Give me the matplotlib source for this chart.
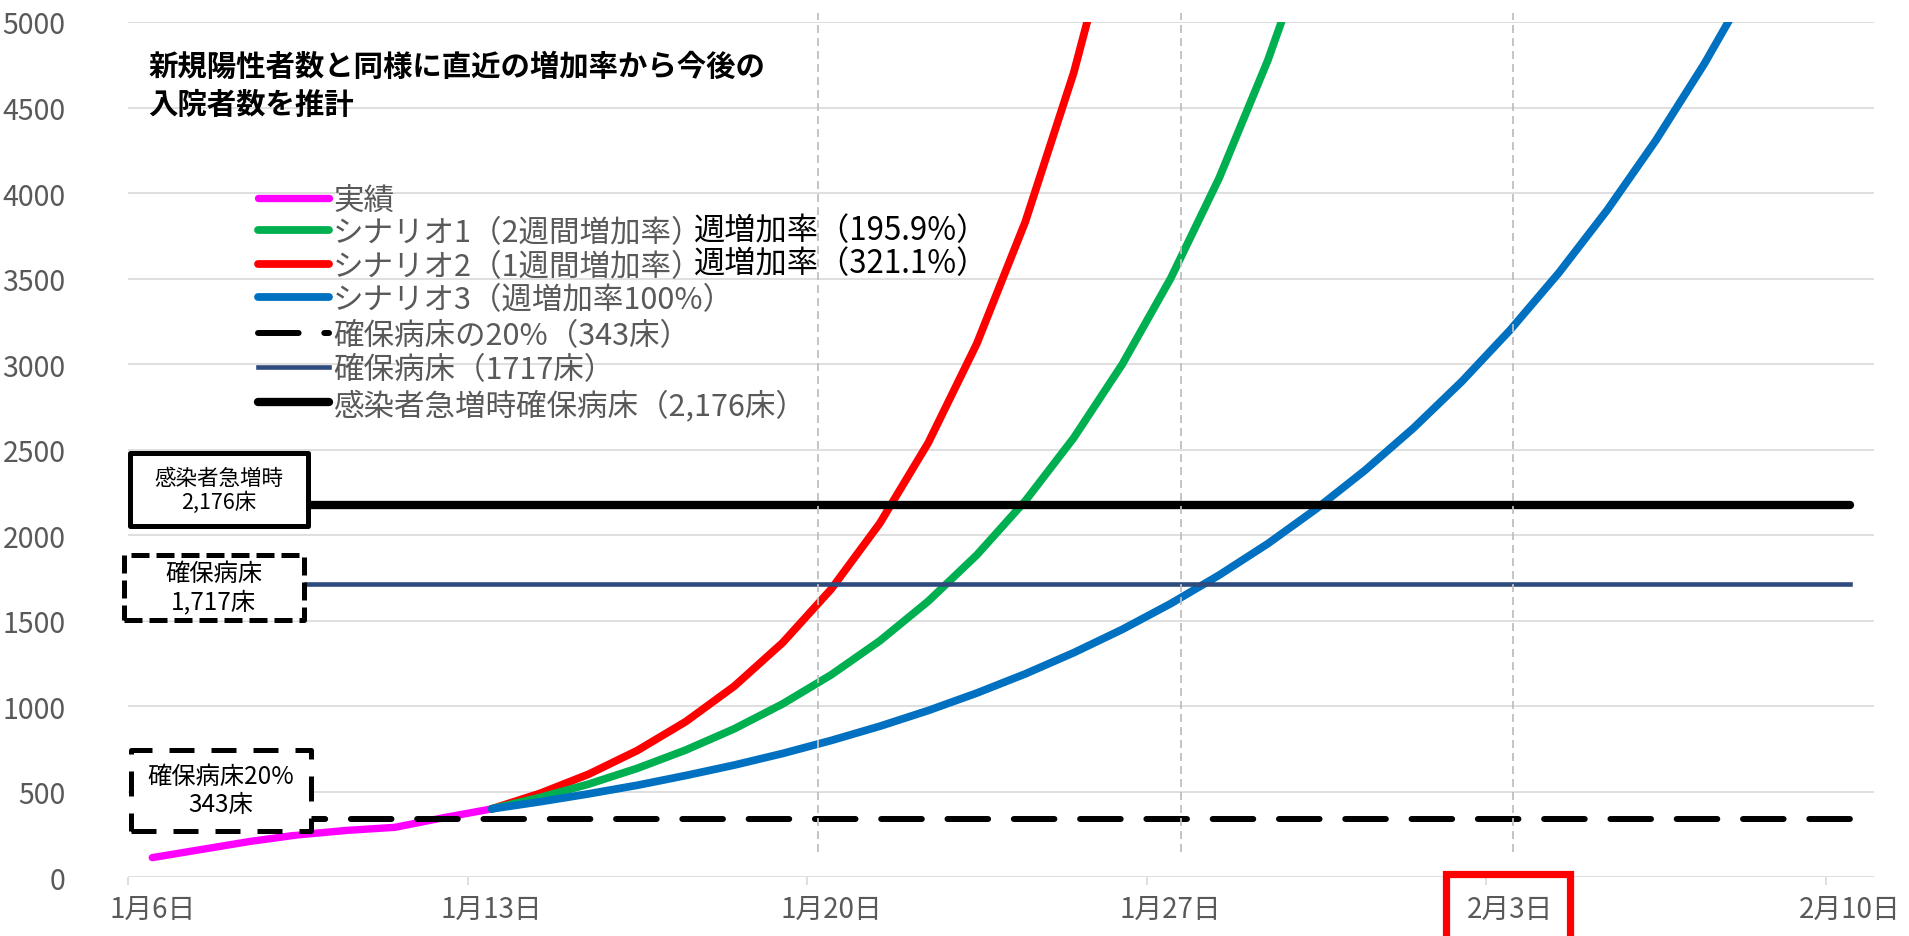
#! /usr/bin/env python3

import matplotlib.pyplot as plt
from matplotlib.lines import Line2D
from matplotlib.patches import Rectangle

plt.rcParams['font.family'] = ['Noto Sans CJK JP', 'DejaVu Sans']

# x is the day count from 1月6日, one point per day
date_days = [0, 7, 14, 21, 28, 35]
date_labels = ['1月6日', '1月13日', '1月20日', '1月27日', '2月3日', '2月10日']

actual_days = [0, 1, 2, 3, 4, 5, 6, 7]
actual = [115, 162, 209, 248, 274, 292, 348, 400]

# projections start on 1月13日 (day 7)
proj_start = 7
scenario1 = [400, 467, 545, 637, 744, 868, 1014, 1184, 1382, 1614, 1884,
             2200, 2569, 2999, 3502, 4089, 4775, 5575]
scenario2 = [400, 491, 603, 741, 910, 1117, 1372, 1685, 2069, 2540, 3119,
             3831, 4704, 5777]
scenario3 = [400, 442, 488, 538, 595, 656, 724, 800, 883, 975, 1077, 1189,
             1313, 1449, 1600, 1767, 1950, 2154, 2378, 2625, 2898, 3200,
             3533, 3901, 4307, 4755, 5250]

beds_20pct = 343
beds = 1717
beds_surge = 2176
last_day = 35

guide_days = [13.73, 21.21, 28.06]

title_lines = ['新規陽性者数と同様に直近の増加率から今後の', '入院者数を推計']
legend_labels = ['実績', 'シナリオ1（2週間増加率）', 'シナリオ2（1週間増加率）',
                 'シナリオ3（週増加率100%）', '確保病床の20%（343床）',
                 '確保病床（1717床）', '感染者急増時確保病床（2,176床）']
rate_notes = ['週増加率（195.9%）', '週増加率（321.1%）']

GRAY = '#595959'
GRID = '#D9D9D9'
MAGENTA, GREEN, RED, BLUE = '#FF00FF', '#00B050', '#FF0000', '#0070C0'
NAVY = '#2F4A7C'

W, H = 1909, 937
fig = plt.figure(figsize=(W / 100, H / 100), dpi=100)
ax = fig.add_axes([128 / W, 58.7 / H, 1746 / W, 855.3 / H])


def px(x, y):
    return x / W, 1 - y / H


curve = dict(solid_capstyle='round', solid_joinstyle='round')
styles = [
    dict(color=MAGENTA, lw=5.3, **curve),
    dict(color=GREEN, lw=5.6, **curve),
    dict(color=RED, lw=5.6, **curve),
    dict(color=BLUE, lw=5.6, **curve),
    dict(color='black', lw=4.3, dashes=(6.8, 4.3), dash_capstyle='round'),
    dict(color=NAVY, lw=3.3),
    dict(color='black', lw=6.0, solid_capstyle='round'),
]

ax.plot(actual_days, actual, zorder=3, **styles[0])
ax.plot(range(proj_start, proj_start + len(scenario2)), scenario2, zorder=3, **styles[2])
ax.plot(range(proj_start, proj_start + len(scenario1)), scenario1, zorder=3, **styles[1])
ax.plot(range(proj_start, proj_start + len(scenario3)), scenario3, zorder=3, **styles[3])

ax.plot([0, last_day], [beds_20pct] * 2, zorder=4, **styles[4])
ax.plot([0, last_day], [beds] * 2, zorder=4, **styles[5])
ax.plot([0, last_day], [beds_surge] * 2, zorder=4, **styles[6])

for d in guide_days:
    ax.plot([d, d], [150, 5050], color='#BFBFBF', lw=1.3, dashes=(4.4, 2.8),
            clip_on=False, zorder=6)

# label boxes on the left that sit over the bed lines
boxes = [
    ((-0.46, 2051), 3.67, 427, '-', '感染者急増時\n2,176床', 15.5),
    ((-0.58, 1505), 3.70, 380, (0, (3.6, 1.4)), '確保病床\n1,717床', 17.5),
    ((-0.44, 269), 3.71, 477, (0, (5, 3.4)), '確保病床20%\n343床', 17.5),
]
for (x0, y0), w, h, ls, txt, fs in boxes:
    ax.add_patch(Rectangle((x0, y0), w, h, facecolor='white', edgecolor='black',
                           lw=3.6, linestyle=ls, joinstyle='round',
                           clip_on=False, zorder=5))
    ax.text(x0 + w / 2, y0 + h / 2, txt, ha='center', va='center',
            fontsize=fs, linespacing=1.1, zorder=7)

ax.set_xlim(-0.5, last_day + 0.5)
ax.set_ylim(0, 5000)
ax.set_yticks(range(0, 5001, 500))
ax.grid(axis='y', color=GRID, lw=1.2)
ax.set_axisbelow(True)
for s in ax.spines.values():
    s.set_visible(False)

ax.set_xticks([d - 0.5 for d in date_days])
ax.set_xticklabels([])
ax.set_xticks(date_days, minor=True)
ax.set_xticklabels(date_labels, minor=True)
ax.tick_params(axis='x', which='major', length=6, width=1.2, color=GRID)
ax.tick_params(axis='x', which='minor', length=0, pad=12, labelsize=20,
               labelcolor=GRAY)
ax.tick_params(axis='y', length=0, pad=45, labelsize=20.5, labelcolor=GRAY)

# title
fig.text(*px(148, 67), title_lines[0], fontsize=21.2, weight='bold', va='center')
fig.text(*px(148, 105), title_lines[1], fontsize=21.2, weight='bold', va='center')

# legend
row_y = [198.5, 231, 264.5, 298, 333.5, 367.5, 403]
for y, label, st in zip(row_y, legend_labels, styles):
    (x0, yy), (x1, _) = px(258, y), px(329, y)
    fig.add_artist(Line2D([x0, x1], [yy, yy], transform=fig.transFigure, **st))
    fig.text(*px(333, y + 3), label, fontsize=22, color=GRAY, va='center')
for y, note in zip(row_y[1:3], rate_notes):
    fig.text(*px(694, y), note, fontsize=22.5, color='black', va='center')

# red frame round the 2月3日 label
fig.add_artist(Rectangle(px(1446, 960), 124 / W, (960 - 874.5) / H,
                         transform=fig.transFigure, fill=False,
                         edgecolor='red', lw=5.2, clip_on=False))

fig.savefig('out.png', dpi=100)
